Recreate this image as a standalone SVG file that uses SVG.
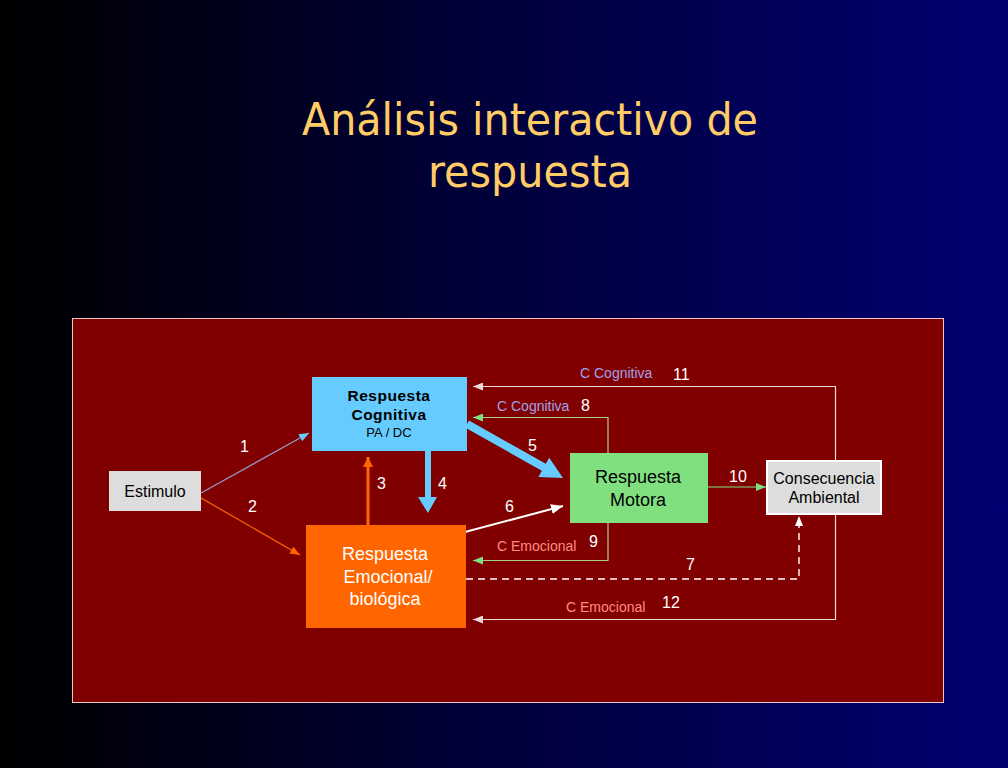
<svg xmlns="http://www.w3.org/2000/svg" width="1008" height="768" viewBox="0 0 1008 768">
<defs>
<linearGradient id="bg" x1="0" y1="0" x2="1" y2="0">
<stop offset="0" stop-color="#000000"/>
<stop offset="0.5" stop-color="#00003C"/>
<stop offset="1" stop-color="#000072"/>
</linearGradient>
<marker id="mBlue" markerUnits="userSpaceOnUse" markerWidth="10" markerHeight="8" refX="10" refY="4" orient="auto"><path d="M0,0 L10,4 L0,8 z" fill="#66CCFF"/></marker>
<marker id="mOrange" markerUnits="userSpaceOnUse" markerWidth="10" markerHeight="8" refX="10" refY="4" orient="auto"><path d="M0,0 L10,4 L0,8 z" fill="#FF6600"/></marker>
<marker id="mOrangeL" markerUnits="userSpaceOnUse" markerWidth="10" markerHeight="10" refX="10" refY="5" orient="auto"><path d="M0,0 L10,5 L0,10 z" fill="#FF6600"/></marker>
<marker id="mWhite" markerUnits="userSpaceOnUse" markerWidth="12" markerHeight="10" refX="12" refY="5" orient="auto"><path d="M0,0 L12,5 L0,10 z" fill="#FFFFFF"/></marker>
<marker id="mGreen" markerUnits="userSpaceOnUse" markerWidth="10" markerHeight="8" refX="10" refY="4" orient="auto"><path d="M0,0 L10,4 L0,8 z" fill="#80E080"/></marker>
<marker id="mPink" markerUnits="userSpaceOnUse" markerWidth="10" markerHeight="8" refX="10" refY="4" orient="auto"><path d="M0,0 L10,4 L0,8 z" fill="#F0D8D8"/></marker>
<marker id="mWhiteS" markerUnits="userSpaceOnUse" markerWidth="10" markerHeight="8" refX="10" refY="4" orient="auto"><path d="M0,0 L10,4 L0,8 z" fill="#FFFFFF"/></marker>
</defs>
<style>
.num{font-family:"Liberation Sans",Arial,sans-serif;font-size:16px;fill:#FFFFFF}
.cc{font-family:"Liberation Sans",Arial,sans-serif;font-size:14px;fill:#A0A0E8}
.ce{font-family:"Liberation Sans",Arial,sans-serif;font-size:14px;fill:#FF8C80}
.t{font-family:"Liberation Sans",Arial,sans-serif;text-anchor:middle}
.thin{fill:none;stroke-width:1.2}
</style>
<rect x="0" y="0" width="1008" height="768" fill="url(#bg)"/>
<g id="title" font-family="'DejaVu Sans Condensed','DejaVu Sans',sans-serif" font-size="44" fill="#FFCC66" text-anchor="middle">
<text x="530" y="135" textLength="456" lengthAdjust="spacingAndGlyphs">Análisis interactivo de</text>
<text x="530" y="187" textLength="204" lengthAdjust="spacingAndGlyphs">respuesta</text>
</g>
<rect id="panel" x="72.5" y="318.5" width="871" height="384" fill="#800000" stroke="#E8C8C8" stroke-width="1"/>
<g id="connectors">
<line x1="201" y1="493" x2="309" y2="433" stroke="#9999CC" class="thin" marker-end="url(#mBlue)"/>
<line x1="201" y1="498" x2="300" y2="555" stroke="#FF6600" class="thin" marker-end="url(#mOrange)"/>
<line x1="368" y1="525" x2="368" y2="457" stroke="#FF6600" stroke-width="3" marker-end="url(#mOrangeL)"/>
<polygon points="425,451 431,451 431,497 437,497 428,513 418,497 425,497" fill="#66CCFF"/>
<polygon points="469,420.5 545.75,463.8 549.2,457.7 563,478 538.4,476.9 541.85,470.8 465,427.5" fill="#66CCFF"/>
<line x1="465" y1="532" x2="563" y2="506" stroke="#FFFFFF" stroke-width="2" marker-end="url(#mWhite)"/>
<polyline points="608,453 608,417.5 473,417.5" stroke="#A8D080" class="thin" marker-end="url(#mGreen)"/>
<polyline points="608,523 608,560.5 473,560.5" stroke="#A8D080" class="thin" marker-end="url(#mGreen)"/>
<line x1="708" y1="487" x2="766" y2="487" stroke="#80E080" class="thin" marker-end="url(#mGreen)"/>
<polyline points="835.5,460 835.5,386.5 473,386.5" stroke="#F0D8D8" class="thin" marker-end="url(#mPink)"/>
<polyline points="835.5,514 835.5,619.5 473,619.5" stroke="#F0D8D8" class="thin" marker-end="url(#mPink)"/>
<polyline points="466,579 799,579 799,516" stroke="#FFFFFF" stroke-width="1.4" stroke-dasharray="7,5" fill="none" marker-end="url(#mWhiteS)"/>
</g>
<g id="labels">
<text class="cc" x="580" y="378">C Cognitiva</text>
<text class="num" x="673" y="380">11</text>
<text class="cc" x="497" y="411">C Cognitiva</text>
<text class="num" x="581" y="411">8</text>
<text class="num" x="528" y="451">5</text>
<text class="num" x="240" y="452">1</text>
<text class="num" x="248" y="512">2</text>
<text class="num" x="377" y="489">3</text>
<text class="num" x="438" y="489">4</text>
<text class="num" x="505" y="512">6</text>
<text class="num" x="729" y="482">10</text>
<text class="ce" x="497" y="551">C Emocional</text>
<text class="num" x="589" y="547">9</text>
<text class="num" x="686" y="570">7</text>
<text class="ce" x="566" y="612">C Emocional</text>
<text class="num" x="662" y="608">12</text>
</g>
<g id="estimulo">
<rect x="109" y="471" width="92" height="40" fill="#DDDDDD"/>
<text class="t" x="155" y="497" font-size="16" fill="#000000">Estimulo</text>
</g>
<g id="cognitiva">
<rect x="312" y="377" width="155" height="74" fill="#66CCFF"/>
<text class="t" x="389" y="401" font-size="15.5" font-weight="bold" fill="#000000" letter-spacing="0.5">Respuesta</text>
<text class="t" x="389" y="420" font-size="15.5" font-weight="bold" fill="#000000" letter-spacing="0.5">Cognitiva</text>
<text class="t" x="389" y="437" font-size="13" fill="#000000">PA / DC</text>
</g>
<g id="emocional">
<rect x="306" y="525" width="160" height="103" fill="#FF6600"/>
<text class="t" x="385" y="560" font-size="18" fill="#FFFFFF">Respuesta</text>
<text class="t" x="388" y="583" font-size="18" fill="#FFFFFF">Emocional/</text>
<text class="t" x="385" y="605" font-size="18" fill="#FFFFFF">biológica</text>
</g>
<g id="motora">
<rect x="570" y="453" width="138" height="70" fill="#80E080"/>
<text class="t" x="638" y="483" font-size="18" fill="#000000">Respuesta</text>
<text class="t" x="638" y="506" font-size="18" fill="#000000">Motora</text>
</g>
<g id="consecuencia">
<rect x="767" y="461" width="114" height="53" fill="#DDDDDD" stroke="#FFFFFF" stroke-width="2"/>
<text class="t" x="824" y="484" font-size="16" fill="#000000">Consecuencia</text>
<text class="t" x="824" y="503" font-size="16" fill="#000000">Ambiental</text>
</g>
</svg>
